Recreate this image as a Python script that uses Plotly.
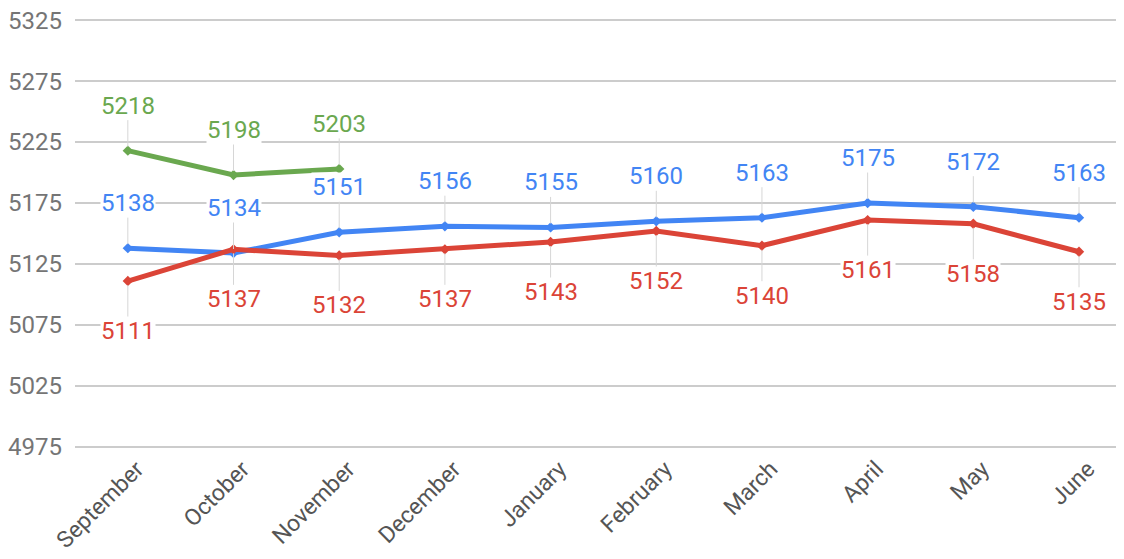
import plotly.graph_objects as go

months = ["September", "October", "November", "December", "January",
          "February", "March", "April", "May", "June"]
blue_vals = [5138, 5134, 5151, 5156, 5155, 5160, 5163, 5175, 5172, 5163]
red_vals = [5111, 5137, 5132, 5137, 5143, 5152, 5140, 5161, 5158, 5135]
green_months = ["September", "October", "November"]
green_vals = [5218, 5198, 5203]
y_ticks = [4975, 5025, 5075, 5125, 5175, 5225, 5275, 5325]

BLUE = "#4285F4"
RED = "#DB4437"
GREEN = "#6AA84F"
FONT = "Roboto"

fig = go.Figure()

series = [
    (green_months, green_vals, GREEN, -45),
    (months, blue_vals, BLUE, -45),
    (months, red_vals, RED, 50),
]

for xs, ys, col, _ in series:
    fig.add_trace(go.Scatter(
        x=xs, y=ys, mode="lines+markers",
        line=dict(color=col, width=5),
        marker=dict(color=col, size=8, symbol="diamond"),
        showlegend=False, hoverinfo="x+y",
    ))

annotations = []
for xs, ys, col, off in series:
    for xv, yv in zip(xs, ys):
        annotations.append(dict(
            x=xv, y=yv, xref="x", yref="y",
            text=str(yv), showarrow=True, arrowhead=0,
            arrowwidth=1, arrowcolor="#d6d6d6",
            ax=0, ay=off, standoff=4,
            font=dict(family=FONT, size=24, color=col),
            bgcolor="white", borderpad=0,
        ))

# page body has an 8px margin, so the figure is sized to fit the window
fig.update_layout(
    width=1108, height=551,
    margin=dict(l=67, r=0, t=11, b=111, autoexpand=False),
    plot_bgcolor="white", paper_bgcolor="white",
    font=dict(family=FONT),
    annotations=annotations,
    showlegend=False,
)
fig.update_xaxes(
    type="category", categoryorder="array", categoryarray=months,
    range=[-0.5, 9.35], automargin=False,
    tickangle=-45, showgrid=False, showline=False, zeroline=False,
    tickfont=dict(family=FONT, size=23, color="#555555"),
    ticks="", ticklabelstandoff=2, ticklabelshift=9,
    ticklabeloverflow="allow",
)
fig.update_yaxes(
    range=[4974, 5326], tickvals=y_ticks, automargin=False,
    showgrid=True, gridcolor="#cccccc", gridwidth=1.5,
    zeroline=False, showline=False, ticks="",
    tickfont=dict(family=FONT, size=24, color="#757575"),
    ticklabelstandoff=12, ticklabeloverflow="allow",
)

fig.write_html("out.html")
